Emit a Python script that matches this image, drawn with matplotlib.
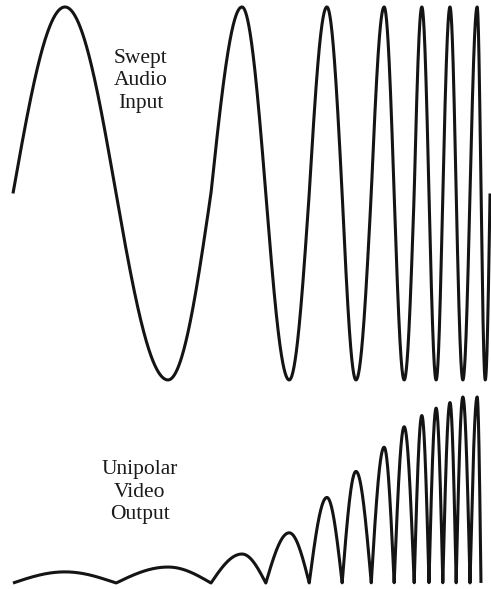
import numpy as np
import matplotlib
matplotlib.use("Agg")
import matplotlib.pyplot as plt

# Time (arbitrary units, 0-100) of each zero crossing of the swept input
zero_crossings = [0.0, 21.6, 41.5, 53.0, 62.1, 69.0, 75.1, 79.9, 84.1,
                  87.2, 90.1, 92.9, 95.8, 98.1, 100.0]
# Time of each peak / trough of the swept input (alternating, starting with a peak)
extrema = [10.9, 32.5, 48.0, 57.9, 65.8, 71.9, 77.8, 82.0, 85.7,
           88.7, 91.6, 94.3, 97.3, 99.0]
# Peak level of each detected half-cycle lobe of the unipolar video output
lobe_peaks = [0.06, 0.086, 0.156, 0.27, 0.46, 0.60, 0.73, 0.84, 0.90,
              0.94, 0.97, 1.0, 1.0]

input_label = "Swept\nAudio\nInput"
output_label = "Unipolar\nVideo\nOutput"

# Phase knots: every zero crossing / extremum is a quarter-cycle step
knots = np.empty(len(zero_crossings) + len(extrema))
knots[0::2] = zero_crossings
knots[1::2] = extrema
phases = np.arange(len(knots)) * np.pi / 2

t = np.linspace(knots[0], knots[-1], 6000)
phase = np.interp(t, knots, phases)
swept = np.sin(phase)

# Rectified output: |sin| scaled by the lobe level, only over the detected lobes
n_lobes = len(lobe_peaks)
mask = phase <= n_lobes * np.pi + 1e-9
t_out = t[mask]
ph_out = phase[mask]
lobe_idx = np.minimum((ph_out // np.pi).astype(int), n_lobes - 1)
video = np.asarray(lobe_peaks)[lobe_idx] * np.abs(np.sin(ph_out))

W, H = 491, 589
fig = plt.figure(figsize=(W / 100, H / 100), dpi=100, facecolor="white")

top_h = 390
ax_in = fig.add_axes([0, 1 - top_h / H, 1, top_h / H])
ax_out = fig.add_axes([0, 0, 1, (H - top_h) / H])

xlim = (-2.72, 100.2)
line_kw = dict(color="#141414", lw=2.2, solid_joinstyle="round",
               solid_capstyle="butt")

ax_in.plot(t, swept, **line_kw)
ax_in.set_xlim(*xlim)
ax_in.set_ylim(-1.054, 1.0375)

ax_out.plot(t_out, video, **line_kw)
ax_out.set_xlim(*xlim)
ax_out.set_ylim(-0.032, 1.0376)

text_kw = dict(ha="center", va="center", fontsize=15.5,
               family=["Liberation Serif", "DejaVu Serif"],
               color="#1a1a1a", linespacing=1.23)
ax_in.text(26.8, 0.604, input_label, **text_kw)
ax_out.text(26.6, 0.489, output_label, **text_kw)

for ax in (ax_in, ax_out):
    ax.axis("off")

fig.savefig("out.png", dpi=100, facecolor="white")
